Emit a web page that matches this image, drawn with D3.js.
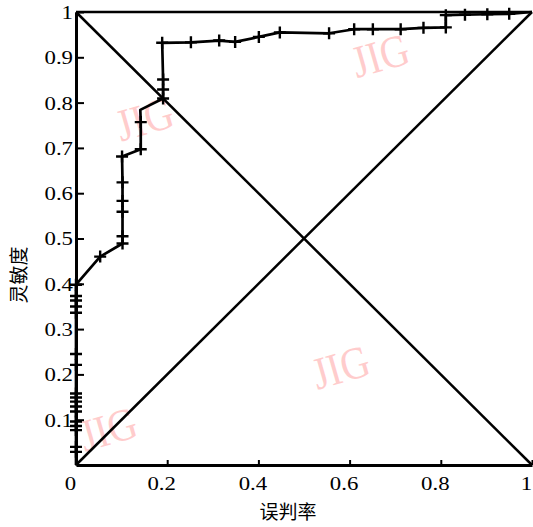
<!DOCTYPE html>
<html>
<head>
<meta charset="utf-8">
<script src="https://cdn.jsdelivr.net/npm/d3@7"></script>
<style>
  body { margin: 0; background: #fff; }
  svg { display: block; }
</style>
</head>
<body>
<svg id="chart" width="533" height="527"></svg>
<script>
// ROC curve points (false positive rate, sensitivity)
const rocFpr = [0, 0, 0, 0, 0, 0, 0, 0, 0, 0, 0, 0, 0, 0, 0, 0, 0, 0,
    0.053, 0.102, 0.102, 0.102, 0.102, 0.102, 0.101, 0.142, 0.142, 0.141,
    0.191, 0.191, 0.191, 0.189, 0.252, 0.314, 0.349, 0.401, 0.447, 0.555,
    0.610, 0.651, 0.712, 0.762, 0.811, 0.811, 0.853, 0.902, 0.950, 1];
const rocTpr = [0, 0.029, 0.040, 0.077, 0.086, 0.096, 0.118, 0.129, 0.140, 0.149,
    0.158, 0.221, 0.245, 0.336, 0.350, 0.363, 0.373, 0.398,
    0.460, 0.489, 0.505, 0.559, 0.583, 0.624, 0.681, 0.697, 0.757, 0.784,
    0.809, 0.829, 0.851, 0.932, 0.933, 0.937, 0.934, 0.945, 0.955, 0.953,
    0.962, 0.962, 0.962, 0.965, 0.966, 0.993, 0.994, 0.995, 0.996, 1];
// 1 = point carries a "+" mark
const rocMark = [0, 1, 1, 1, 1, 1, 1, 1, 1, 1, 1, 1, 1, 1, 1, 1, 1, 1,
    1, 1, 1, 1, 1, 1, 1, 1, 1, 0,
    1, 1, 1, 1, 1, 1, 1, 1, 1, 1,
    1, 1, 1, 1, 1, 1, 1, 1, 1, 0];

const xTicks = [0, 0.2, 0.4, 0.6, 0.8, 1];
const xTickLabels = ['0', '0.2', '0.4', '0.6', '0.8', '1'];
const yTicks = [0.1, 0.2, 0.3, 0.4, 0.5, 0.6, 0.7, 0.8, 0.9, 1];
const yTickLabels = ['0.1', '0.2', '0.3', '0.4', '0.5', '0.6', '0.7', '0.8', '0.9', '1'];

const watermarks = [[0.15, 0.765], [0.667, 0.905], [0.58, 0.217], [0.07, 0.08]];

const svg = d3.select('#chart');
const x = d3.scaleLinear().domain([0, 1]).range([76, 532]);
const y = d3.scaleLinear().domain([0, 1]).range([465, 12]);

const serif = '"Liberation Serif", "DejaVu Serif", serif';

// watermark text (behind everything)
svg.append('g')
    .selectAll('text')
    .data(watermarks)
    .enter()
    .append('text')
    .attr('transform', d => `translate(${x(d[0])},${y(d[1])}) rotate(-16) scale(1.05,1.2)`)
    .attr('text-anchor', 'middle')
    .attr('dy', '0.35em')
    .attr('font-family', serif)
    .attr('font-size', 38)
    .attr('fill', '#ffbcbc')
    .attr('fill-opacity', 0.75)
    .text('JIG');

// axes
const xAxis = d3.axisBottom(x)
    .tickValues(xTicks)
    .tickFormat((d, i) => xTickLabels[i])
    .tickSizeInner(-5)
    .tickSizeOuter(0)
    .tickPadding(12);

const yAxis = d3.axisLeft(y)
    .tickValues(yTicks)
    .tickFormat((d, i) => yTickLabels[i])
    .tickSizeInner(-8)
    .tickSizeOuter(0)
    .tickPadding(3);

const gx = svg.append('g')
    .attr('transform', `translate(0,${y(0)})`)
    .call(xAxis);
const gy = svg.append('g')
    .attr('transform', `translate(${x(0)},0)`)
    .call(yAxis);

for (let g of [gx, gy]) {
    g.select('.domain').attr('stroke', '#000').attr('stroke-width', 3);
    g.selectAll('.tick line').attr('stroke', '#000').attr('stroke-width', 2);
    g.selectAll('.tick text')
        .attr('font-family', serif)
        .attr('font-size', 19)
        .attr('fill', '#000')
        .attr('lengthAdjust', 'spacingAndGlyphs')
        .attr('textLength', function () { return this.getComputedTextLength() * 1.2; });
}
gx.selectAll('.tick text').attr('dx', -6);
gy.selectAll('.tick text').attr('dy', '0.34em');

// top frame line and the two diagonals
const refLines = [
    [[0, 1], [1, 1]],
    [[0, 0], [1, 1]],
    [[0, 1], [1, 0]]
];
svg.append('g')
    .selectAll('line')
    .data(refLines)
    .enter()
    .append('line')
    .attr('x1', d => x(d[0][0]))
    .attr('y1', d => y(d[0][1]))
    .attr('x2', d => x(d[1][0]))
    .attr('y2', d => y(d[1][1]))
    .attr('stroke', '#000')
    .attr('stroke-width', 2.5);

// the ROC curve
const pts = rocFpr.map((f, i) => ({ fpr: f, tpr: rocTpr[i], mark: rocMark[i] }));

const line = d3.line()
    .x(d => x(d.fpr))
    .y(d => y(d.tpr));

svg.append('path')
    .datum(pts)
    .attr('d', line)
    .attr('fill', 'none')
    .attr('stroke', '#000')
    .attr('stroke-width', 2.7)
    .attr('stroke-linejoin', 'round');

svg.append('g')
    .selectAll('path')
    .data(pts.filter(d => d.mark))
    .enter()
    .append('path')
    .attr('d', d => {
        const cx = x(d.fpr), cy = y(d.tpr), r = 6;
        return `M${cx - r},${cy}H${cx + r}M${cx},${cy - r}V${cy + r}`;
    })
    .attr('stroke', '#000')
    .attr('stroke-width', 2.4);

// axis titles
svg.append('text')
    .attr('x', 288)
    .attr('y', 519)
    .attr('text-anchor', 'middle')
    .attr('font-family', '"Noto Sans CJK SC", sans-serif')
    .attr('font-size', 19)
    .text('误判率');

svg.append('text')
    .attr('transform', 'translate(26,275) rotate(-90)')
    .attr('text-anchor', 'middle')
    .attr('font-family', '"Noto Sans CJK SC", sans-serif')
    .attr('font-size', 19)
    .text('灵敏度');
</script>
</body>
</html>
